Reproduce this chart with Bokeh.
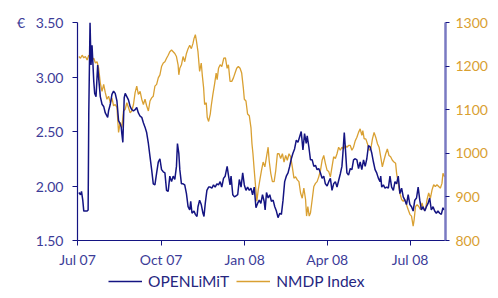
from datetime import datetime, timedelta
from bokeh.plotting import figure
from bokeh.layouts import column
from bokeh.models import (Range1d, LinearAxis, FixedTicker, NumeralTickFormatter,
                          Legend, LegendItem)
from bokeh.embed import file_html
from bokeh.resources import INLINE

# ---------------- data ----------------
start_date = datetime(2007, 7, 1)
end_day = 405  # days after start shown on the x axis

openlimit_days = [
    1.5, 3.3, 4.4, 5.8, 6.9, 10.6, 11.7, 12.4, 13.8, 14.9, 16.0, 17.9, 18.9, 20.4, 22.2, 23.3,
    25.1, 27.0, 28.8, 30.6, 33.2, 34.2, 36.1, 37.9, 39.7, 41.5, 43.4, 45.2, 47.0, 48.1, 48.8,
    49.9, 51.4, 52.5, 54.3, 56.1, 57.9, 59.7, 61.6, 63.4, 65.2, 67.0, 68.9, 70.7, 72.5, 74.3,
    76.1, 78.0, 79.8, 81.6, 83.4, 85.2, 87.1, 88.9, 90.7, 92.5, 94.4, 96.2,
    98.0, 99.8, 101.6, 103.5, 105.3, 107.1, 108.9, 110.0, 111.5, 112.6, 114.4, 116.2, 118.0,
    119.9, 121.7, 123.5, 124.6, 126.0, 128.2, 129.7, 131.5, 132.6, 134.4, 136.2, 138.1, 139.2,
    140.6, 142.4, 144.3, 146.1, 147.9, 149.7, 151.5, 153.4, 155.2, 157.0, 158.8, 160.7, 162.5,
    164.7, 166.1, 167.9, 169.0, 170.9, 172.7, 174.5, 176.3, 178.1, 180.0, 181.8, 183.6, 185.4,
    187.2, 189.1, 190.9, 192.7, 194.5, 196.4, 198.2,
    200.0, 201.8, 203.6, 205.4, 206.5, 208.0, 209.8, 211.6, 213.4, 215.3, 217.1, 218.9, 220.7,
    222.6, 224.4, 226.2, 228.0, 229.8, 231.7, 233.5, 235.3, 237.1, 238.9, 240.8, 242.6, 244.4,
    246.2, 248.1, 249.9, 251.7, 252.8, 254.6, 256.4, 258.3, 260.1, 261.9, 263.7, 265.5, 267.4,
    269.2, 271.0, 272.8, 274.7, 276.5, 278.3, 280.1, 281.9, 283.8, 285.6, 287.4, 289.2, 291.0,
    292.1, 293.6, 294.7, 296.5, 298.3,
    300.2, 302.0, 303.8, 305.7, 307.5, 309.3, 311.1, 312.9, 314.8, 316.6, 318.4, 320.2, 322.0,
    323.9, 325.7, 327.5, 329.3, 331.2, 333.0, 333.7, 334.8, 336.6, 338.4, 340.3, 342.1, 343.9,
    345.7, 347.6, 349.4, 351.2, 353.0, 354.8, 356.7, 358.5, 360.3, 362.1, 363.9, 365.8, 367.6,
    369.4, 371.2, 373.1, 374.9, 376.7, 378.5, 380.3, 382.2, 384.0, 385.8, 387.6, 389.4, 391.3,
    393.1, 394.9, 396.7, 398.6, 400.4, 402.2, 403.3,
]
openlimit_eur = [
    1.94, 1.92, 1.95, 1.87, 1.77, 1.77, 1.78, 2.66, 3.50, 3.11, 3.29, 2.96, 2.85, 2.82, 3.11, 2.99,
    2.82, 2.75, 2.73, 2.67, 2.63, 2.69, 2.75, 2.84, 2.87, 2.85, 2.78, 2.60, 2.57, 2.54, 2.48,
    2.40, 2.81, 2.85, 2.82, 2.79, 2.73, 2.70, 2.69, 2.70, 2.72, 2.67, 2.64, 2.63, 2.58, 2.54,
    2.49, 2.39, 2.27, 2.15, 2.02, 2.01, 2.12, 2.22, 2.25, 2.15, 2.13, 2.12,
    1.96, 1.95, 2.09, 2.04, 2.09, 2.06, 2.18, 2.39, 2.30, 2.15, 2.02, 2.02, 2.01,
    1.93, 1.81, 1.78, 1.86, 1.75, 1.77, 1.74, 1.72, 1.81, 1.87, 1.83, 1.75, 1.72,
    1.84, 1.96, 1.99, 1.99, 1.98, 2.01, 1.99, 2.02, 2.01, 2.04, 1.99, 2.07, 2.09,
    2.18, 2.10, 2.01, 2.09, 1.92, 1.90, 1.91, 1.92, 2.06, 1.99, 2.12, 2.01, 1.96,
    1.99, 1.96, 1.98, 1.92, 1.99, 1.80, 1.84,
    1.87, 1.84, 1.92, 1.86, 1.78, 1.94, 1.89, 1.92, 1.86, 1.87, 1.81, 1.77, 1.71,
    1.75, 1.74, 1.87, 2.04, 2.09, 2.12, 2.18, 2.25, 2.30, 2.34, 2.42, 2.40, 2.45,
    2.50, 2.33, 2.48, 2.39, 2.46, 2.36, 2.24, 2.24, 2.18, 2.19, 2.15, 2.16, 2.12,
    2.07, 2.09, 2.02, 2.00, 2.04, 2.07, 1.96, 2.02, 2.04, 1.99, 2.05, 2.11, 2.18,
    2.30, 2.49, 2.36, 2.12, 2.10,
    2.16, 2.15, 2.24, 2.25, 2.24, 2.16, 2.22, 2.15, 2.24, 2.18, 2.25, 2.37, 2.36,
    2.30, 2.22, 2.15, 2.12, 2.07, 2.04, 2.09, 1.99, 2.01, 1.98, 1.99, 1.98, 2.09,
    1.99, 1.96, 2.04, 2.02, 2.09, 1.93, 1.98, 1.90, 1.87, 1.83, 1.92, 1.83, 1.81,
    1.77, 1.87, 1.89, 1.99, 1.87, 1.78, 1.81, 1.77, 1.81, 1.84, 1.89, 1.78, 1.81,
    1.77, 1.75, 1.77, 1.75, 1.74, 1.80, 1.78,
]

nmdp_days = [
    1.5, 3.3, 5.1, 6.9, 8.7, 10.6, 12.4, 14.2, 16.0, 17.9, 19.7, 21.5, 23.3, 25.1, 27.0,
    28.8, 30.6, 32.4, 34.2, 36.1, 37.9, 39.7, 41.5, 43.4, 45.2, 47.0, 48.8, 50.6, 52.5, 54.3,
    56.1, 57.9, 59.7, 61.6, 63.4, 65.2, 67.0, 68.9, 70.7, 72.5, 74.3, 76.1, 78.0, 79.8, 81.6,
    83.4, 85.2, 87.1, 88.9, 90.7, 92.5, 94.4, 96.2,
    98.0, 99.8, 101.6, 103.5, 105.3, 107.1, 108.9, 110.7, 111.5, 112.6, 114.4, 116.2, 118.0,
    119.9, 121.7, 123.5, 125.3, 127.1, 128.2, 129.7, 130.8, 132.6, 134.4, 136.2, 137.3, 138.8,
    139.9, 141.7, 142.8, 144.3, 146.1, 147.2, 149.0, 150.8, 152.6, 153.7, 155.2, 157.0, 158.8,
    161.0, 162.8, 164.7, 166.1, 167.9, 169.8, 171.6, 173.4, 175.2, 177.0, 178.9, 180.7, 182.5,
    183.6, 185.4, 187.2, 189.1, 190.9, 192.0, 193.1, 194.5,
    196.3, 197.4, 198.9, 200.7, 202.5, 204.3, 206.2, 208.0, 209.8, 210.9, 212.7, 214.5, 216.4,
    218.2, 220.0, 221.8, 223.6, 225.5, 227.3, 229.1, 230.9, 232.8, 234.6, 236.4, 238.2, 240.0,
    241.9, 243.7, 245.5, 247.3, 249.1, 251.0, 252.1, 253.5, 255.0, 256.4, 258.3, 260.1, 261.9,
    263.7, 265.5, 267.4, 269.2, 271.0, 272.8, 274.7, 276.5, 278.3, 280.1, 281.9, 283.8, 285.6,
    287.4, 289.2, 291.0, 292.9, 294.7, 296.5, 298.3,
    300.2, 302.0, 303.8, 305.7, 307.5, 309.3, 311.1, 312.9, 314.0, 315.5, 317.3, 319.1, 321.0,
    322.8, 324.6, 326.4, 328.2, 330.1, 331.9, 333.7, 335.5, 337.3, 339.2, 341.0, 342.8, 344.6,
    346.5, 348.3, 350.1, 351.2, 353.0, 354.8, 356.7, 358.5, 360.3, 362.1, 363.9, 365.8, 367.6,
    369.4, 370.5, 372.0, 373.8, 375.6, 377.4, 379.2, 381.1, 382.9, 384.7, 386.5, 388.4, 390.2,
    392.0, 393.8, 395.6, 397.5, 399.3, 401.1, 402.2, 404.0,
]
nmdp_index = [
    1222, 1218, 1225, 1219, 1222, 1214, 1225, 1222, 1214, 1218, 1207, 1210, 1195, 1161, 1142,
    1158, 1139, 1124, 1131, 1116, 1127, 1109, 1112, 1105, 1048, 1071, 1059, 1097, 1101, 1116,
    1105, 1093, 1097, 1112, 1139, 1154, 1135, 1142, 1124, 1112, 1124, 1109, 1097, 1120, 1127,
    1131, 1154, 1158, 1173, 1180, 1199, 1207, 1210,
    1218, 1225, 1233, 1237, 1233, 1229, 1222, 1203, 1180, 1195, 1203, 1222, 1210,
    1229, 1240, 1248, 1240, 1252, 1263, 1272, 1259, 1233, 1188, 1207, 1180, 1150,
    1112, 1116, 1082, 1073, 1090, 1109, 1135, 1158, 1184, 1169, 1195, 1203, 1199,
    1218, 1219, 1195, 1203, 1165, 1165, 1173, 1184, 1195, 1199, 1195, 1184, 1150,
    1124, 1120, 1090, 1086, 1059, 1022, 999, 961,
    916, 890, 916, 939, 961, 980, 969, 992, 1014, 984, 954, 935, 935,
    961, 999, 999, 988, 999, 980, 995, 984, 999, 992, 969, 943, 946,
    939, 935, 909, 897, 920, 894, 856, 878, 856, 863, 894, 924, 931,
    935, 946, 961, 984, 995, 977, 961, 958, 946, 969, 992, 988, 999,
    1014, 1007, 1014, 1010, 1018, 1014, 1018,
    1018, 1007, 1014, 1029, 1037, 1048, 1056, 1041, 1052, 1033, 1033, 1022, 1007,
    1010, 1033, 1048, 1037, 1022, 1014, 992, 969, 984, 999, 1010, 995, 992,
    984, 980, 977, 954, 931, 909, 894, 890, 894, 882, 871, 860, 856,
    833, 848, 878, 882, 878, 871, 886, 871, 871, 894, 909, 897, 916,
    928, 924, 928, 924, 920, 931, 954, 946,
]

left_ticks = [1.5, 2.0, 2.5, 3.0, 3.5]
left_unit = "€"
right_ticks = [800, 900, 1000, 1100, 1200, 1300]
tick_dates = ["2007-07-01", "2007-10-01", "2008-01-01", "2008-04-01", "2008-07-01"]
tick_labels = ["Jul 07", "Oct 07", "Jan 08", "Apr 08", "Jul 08"]
series_names = ["OPENLiMiT", "NMDP Index"]

# ---------------- styling ----------------
NAVY = "#141482"
ORANGE = "#d9a032"
LABEL_BLUE = "#3c3c98"
FONT = "Lato"

def to_dt(d):
    return start_date + timedelta(days=d)

epoch = datetime(1970, 1, 1)
def to_ms(dt):
    return (dt - epoch).total_seconds() * 1000.0

ol_pairs = list(zip(openlimit_days, openlimit_eur))
nm_pairs = list(zip(nmdp_days, nmdp_index))
ol_x = [to_dt(d) for d, _ in ol_pairs]
ol_y = [v for _, v in ol_pairs]
nm_x = [to_dt(d) for d, _ in nm_pairs]
nm_y = [v for _, v in nm_pairs]

p = figure(width=490, height=270, x_axis_type="datetime",
           x_range=Range1d(start_date, to_dt(end_day)),
           y_range=Range1d(1.5, 3.5),
           output_backend="svg", toolbar_location=None,
           min_border_left=77, min_border_right=42,
           min_border_top=22, min_border_bottom=27)
p.outline_line_color = None
p.xgrid.visible = False
p.ygrid.visible = False
p.background_fill_color = "white"
p.border_fill_color = "white"

p.extra_y_ranges = {"nmdp": Range1d(800, 1300)}

line_styles = dict(
    nmdp=dict(line_color=ORANGE, line_width=1.3),
    openlimit=dict(line_color=NAVY, line_width=1.5),
)
p.line(nm_x, nm_y, y_range_name="nmdp", **line_styles["nmdp"])
p.line(ol_x, ol_y, **line_styles["openlimit"])

# x axis
xa = p.xaxis[0]
tick_ms = [to_ms(datetime.strptime(t, "%Y-%m-%d")) for t in tick_dates]
xa.ticker = FixedTicker(ticks=tick_ms)
xa.major_label_overrides = {m: l for m, l in zip(tick_ms, tick_labels)}
xa.axis_line_color = NAVY
xa.axis_line_width = 1.2
xa.major_tick_line_color = NAVY
xa.major_tick_out = 5
xa.major_tick_in = 0
xa.minor_tick_line_color = None
xa.major_label_text_color = LABEL_BLUE
xa.major_label_text_font = FONT
xa.major_label_text_font_size = "14px"
xa.major_label_standoff = 5

# left axis (euro sign shown beside the top label)
ya = p.yaxis[0]
ya.ticker = FixedTicker(ticks=left_ticks)
ya.formatter = NumeralTickFormatter(format="0.00")
ya.major_label_overrides = {left_ticks[-1]: left_unit + "\u00a0\u00a0\u00a0" + f"{left_ticks[-1]:.2f}"}
ya.axis_line_color = NAVY
ya.axis_line_width = 1.2
ya.major_tick_line_color = NAVY
ya.major_tick_out = 5
ya.major_tick_in = 0
ya.minor_tick_line_color = None
ya.major_label_text_color = LABEL_BLUE
ya.major_label_text_font = FONT
ya.major_label_text_font_size = "14px"
ya.major_label_standoff = 9

# right axis
ra = LinearAxis(y_range_name="nmdp", ticker=FixedTicker(ticks=right_ticks))
ra.axis_line_color = "#7a7ac2"
ra.axis_line_width = 2.5
ra.major_tick_line_color = NAVY
ra.major_tick_out = 4
ra.major_tick_in = 0
ra.minor_tick_line_color = None
ra.major_label_text_color = ORANGE
ra.major_label_text_font = FONT
ra.major_label_text_font_size = "14px"
ra.major_label_standoff = 6
p.add_layout(ra, "right")

# ---------------- legend strip below the chart ----------------
lg = figure(width=490, height=20, x_range=Range1d(0, 1), y_range=Range1d(0, 1),
            x_axis_type=None, y_axis_type=None, output_backend="svg",
            toolbar_location=None, min_border=0)
lg.outline_line_color = None
lg.xgrid.visible = False
lg.ygrid.visible = False
nan = float("nan")
k_ol = lg.line(x=[nan], y=[nan], **line_styles["openlimit"])
k_nm = lg.line(x=[nan], y=[nan], **line_styles["nmdp"])

legend = Legend(items=[LegendItem(label=series_names[0], renderers=[k_ol]),
                       LegendItem(label=series_names[1], renderers=[k_nm])],
                orientation="horizontal", location=(31, 0))
legend.border_line_color = None
legend.background_fill_alpha = 0
legend.label_text_font = FONT
legend.label_text_font_size = "15.5px"
legend.label_text_color = "#26267f"
legend.glyph_width = 34
legend.glyph_height = 14
legend.label_standoff = 6
legend.spacing = 7
legend.padding = 0
legend.margin = 0
lg.add_layout(legend, "center")

layout = column(p, lg, spacing=0)
open("out.html", "w").write(file_html(layout, INLINE))
